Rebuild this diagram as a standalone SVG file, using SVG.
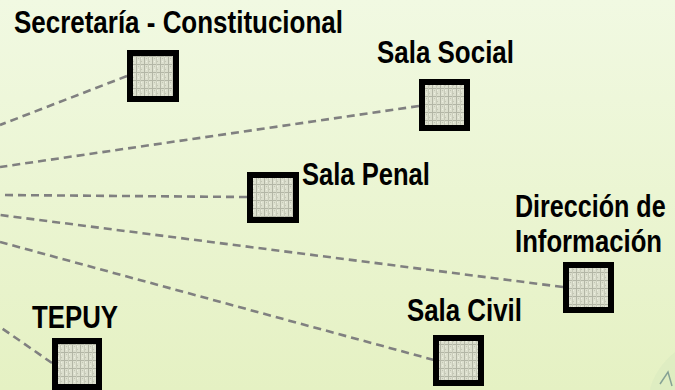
<svg xmlns="http://www.w3.org/2000/svg" width="675" height="390" viewBox="0 0 675 390">
<defs>
<linearGradient id="bg" x1="0" y1="0" x2="0" y2="1">
<stop offset="0" stop-color="#f1f9e2"/>
<stop offset="1" stop-color="#e5f1c3"/>
</linearGradient>
<pattern id="grid" width="8" height="8" patternUnits="userSpaceOnUse">
<rect width="8" height="8" fill="#dcdfce"/>
<path d="M0 0.5H8M0.5 0V8" stroke="#b3b6a6" stroke-width="1"/>
<rect x="2" y="2" width="1" height="1" fill="#c2c5b4"/>
<rect x="5" y="5" width="1" height="1" fill="#c2c5b4"/>
<rect x="2" y="5" width="1" height="1" fill="#eef0e2"/>
<rect x="5" y="2" width="1" height="1" fill="#eef0e2"/>
<rect x="4" y="0" width="1" height="8" fill="#c8cbba"/>
</pattern>
<style>
.lbl{font-family:"Liberation Sans",Arial,sans-serif;font-weight:bold;font-size:31px;fill:#000}
.box{fill:url(#grid);stroke:#000;stroke-width:6}
.con{stroke:#808080;stroke-width:2.6;stroke-dasharray:8 5;fill:none}
</style>
</defs>
<rect width="675" height="390" fill="url(#bg)"/>
<path d="M675 352 C662 362 652 378 650 390 L675 390 Z" fill="#dcebc0" opacity="0.7"/>
<path d="M660 384 L668 372 L672 386" fill="none" stroke="#6f8f8a" stroke-width="1.5" opacity="0.8"/>
<g id="connectors">
<line class="con" x1="127" y1="76" x2="0" y2="125"/>
<line class="con" x1="419" y1="106" x2="0" y2="167"/>
<line class="con" x1="247" y1="197" x2="0" y2="195"/>
<line class="con" x1="563" y1="287" x2="0" y2="215"/>
<line class="con" x1="434" y1="360" x2="0" y2="242"/>
<line class="con" x1="52" y1="363" x2="0" y2="327"/>
</g>
<g id="secretaria">
<text class="lbl" transform="translate(14,33) scale(0.838,1)">Secretaría - Constitucional</text>
<rect class="box" x="130" y="53" width="46" height="46"/>
</g>
<g id="sala-social">
<text class="lbl" transform="translate(377,63) scale(0.837,1)">Sala Social</text>
<rect class="box" x="422" y="82" width="45" height="46"/>
</g>
<g id="sala-penal">
<text class="lbl" transform="translate(302,185) scale(0.825,1)">Sala Penal</text>
<rect class="box" x="250" y="175" width="46" height="45"/>
</g>
<g id="direccion">
<text class="lbl" transform="translate(515,217) scale(0.81,1)">Dirección de</text>
<text class="lbl" transform="translate(515,252) scale(0.829,1)">Información</text>
<rect class="box" x="566" y="265" width="45" height="45"/>
</g>
<g id="sala-civil">
<text class="lbl" transform="translate(407,321) scale(0.834,1)">Sala Civil</text>
<rect class="box" x="436" y="338" width="45" height="45"/>
</g>
<g id="tepuy">
<text class="lbl" transform="translate(32,328) scale(0.832,1)">TEPUY</text>
<rect class="box" x="55" y="341" width="44" height="46"/>
</g>
</svg>
